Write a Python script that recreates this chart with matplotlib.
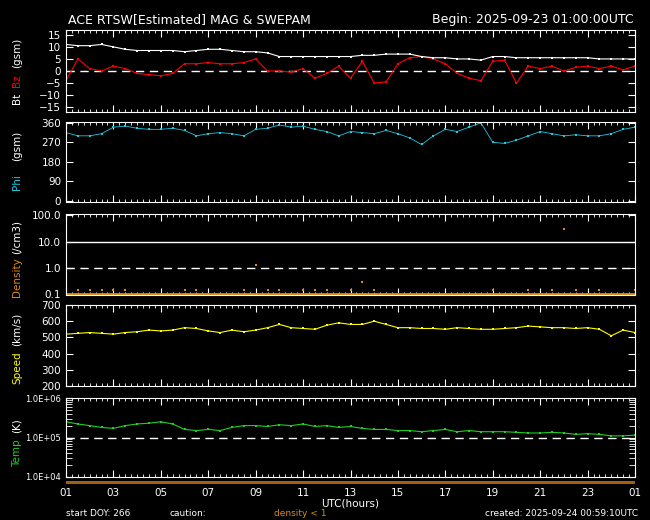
import matplotlib
matplotlib.use("Agg")
import matplotlib.pyplot as plt
import numpy as np

# hours since 01 UTC, half-hour steps
HOURS = [i * 0.5 for i in range(49)]
XTICK_LABELS = ["01", "03", "05", "07", "09", "11", "13", "15", "17", "19", "21", "23", "01"]

BT = [11, 10.5, 10.5, 11, 10, 9, 8.5, 8.5, 8.5, 8.5, 8, 8.5, 9, 9, 8.5, 8, 8, 7.5, 6, 6,
      6, 6, 6, 6, 6, 6.5, 6.5, 7, 7, 7, 6, 5.5, 5.5, 5, 5, 4.5, 6, 6, 5.5, 5.5, 5.5,
      5.5, 5.5, 5.5, 5.5, 5, 5, 5, 5]
BZ = [-4, 5, 1, 0, 2, 1, -1, -1.5, -2, -1, 3, 3, 3.5, 3, 3, 3.5, 5, 0, 0, -0.5, 1,
      -3, -1, 2, -3, 4, -5, -4.5, 3, 5.5, 6, 5, 3, -1, -3, -4, 4, 4.5, -5, 2, 1,
      2, 0, 1.5, 2, 1, 2, 0.5, 2]
PHI = [315, 300, 300, 310, 340, 345, 335, 330, 330, 335, 325, 300, 310, 315, 310, 300,
       330, 335, 350, 340, 345, 330, 320, 300, 320, 315, 310, 325, 310, 290, 260, 300,
       330, 320, 340, 360, 270, 265, 280, 300, 320, 310, 300, 305, 300, 300, 310, 330, 340]
DENSITY = [0.4, 0.15, 0.15, 0.15, 0.15, 0.15, 0.1, 0.1, 0.1, 0.1, 0.15, 0.15, 0.1, 0.1, 0.1, 0.15,
           1.3, 0.15, 0.15, 0.1, 0.15, 0.15, 0.15, 0.1, 0.15, 0.3, 0.15, 0.1, 0.1, 0.1, 0.1, 0.1,
           0.1, 0.1, 0.1, 0.1, 0.15, 0.1, 0.1, 0.15, 0.1, 0.15, 30, 0.15, 0.1, 0.15, 0.1, 0.1, 0.15]
SPEED = [520, 525, 530, 525, 520, 530, 535, 545, 540, 545, 560, 555, 540, 530, 545, 535,
         545, 560, 580, 560, 555, 550, 575, 590, 580, 580, 600, 580, 560, 560, 555, 555,
         550, 560, 555, 550, 550, 555, 560, 570, 565, 560, 560, 555, 560, 550, 510, 545, 530]
TEMP = [2.5e5, 2.2e5, 2e5, 1.8e5, 1.7e5, 2e5, 2.2e5, 2.3e5, 2.5e5, 2.2e5, 1.6e5, 1.5e5,
        1.6e5, 1.5e5, 1.8e5, 2e5, 2e5, 1.9e5, 2.1e5, 2e5, 2.2e5, 1.9e5, 2e5, 1.8e5,
        1.9e5, 1.7e5, 1.6e5, 1.6e5, 1.5e5, 1.5e5, 1.4e5, 1.5e5, 1.6e5, 1.4e5, 1.5e5,
        1.4e5, 1.4e5, 1.4e5, 1.35e5, 1.3e5, 1.3e5, 1.35e5, 1.3e5, 1.2e5, 1.25e5, 1.2e5,
        1.1e5, 1.1e5, 1.15e5]

W, H = 650, 520
fig = plt.figure(figsize=(W / 100, H / 100), dpi=100, facecolor="black")
plt.rcParams["font.family"] = "DejaVu Sans"
FS = 7.5
LEFT, RIGHT = 66, 635


def panel(top, bottom):
    ax = fig.add_axes([LEFT / W, 1 - bottom / H, (RIGHT - LEFT) / W, (bottom - top) / H])
    ax.set_facecolor("black")
    for s in ax.spines.values():
        s.set_color("white")
    ax.set_xlim(0, 24)
    ax.set_xticks(range(0, 25, 2))
    ax.set_xticks(np.arange(0, 24.01, 0.25), minor=True)
    ax.tick_params(colors="white", direction="in", top=True, right=True, labelsize=FS,
                   length=5, width=0.8)
    ax.tick_params(which="minor", colors="white", direction="in", top=True, length=2)
    ax.set_xticklabels([])
    return ax


def ylabel(ax, y, text, color):
    ax.text(-0.086, y, text, color=color, rotation=90, fontsize=FS,
            transform=ax.transAxes, ha="center", va="center")


def dots(ax, y, c):
    ax.plot(HOURS, y, color=c, lw=0.8)
    ax.plot(HOURS, y, "s", color=c, ms=1.5, mew=0)


# Bt / Bz
ax = panel(30, 112)
ax.set_ylim(-17, 17)
ax.set_yticks([-15, -10, -5, 0, 5, 10, 15])
ax.axhline(0, color="white", ls=(0, (6, 4)), lw=1)
dots(ax, BZ, "red")
dots(ax, BT, "white")
ylabel(ax, 0.17, "Bt", "white")
ylabel(ax, 0.38, "Bz", "red")
ylabel(ax, 0.72, "(gsm)", "white")
fig.text(68 / W, 1 - 20 / H, "ACE RTSW[Estimated] MAG & SWEPAM", color="white", fontsize=9, va="center")
fig.text(634 / W, 1 - 20 / H, "Begin: 2025-09-23 01:00:00UTC", color="white", fontsize=9, va="center", ha="right")

# Phi
ax = panel(122, 202)
ax.set_ylim(-6, 364)
ax.set_yticks([0, 90, 180, 270, 360])
ax.plot(HOURS, PHI, "s", color="#20c8e0", ms=1.8, mew=0)
ax.plot(HOURS, PHI, color="#20c8e0", lw=0.6)
ylabel(ax, 0.25, "Phi", "#20c8e0")
ylabel(ax, 0.7, "(gsm)", "white")

# Density
ax = panel(214, 295)
ax.set_yscale("log")
ax.set_ylim(0.095, 110)
ax.set_yticks([0.1, 1, 10, 100])
ax.set_yticklabels(["0.1", "1.0", "10.0", "100.0"])
ax.tick_params(which="minor", axis="y", colors="white", direction="in", length=4, right=True)
ax.axhline(10, color="white", lw=1)
ax.axhline(1, color="white", ls=(0, (6, 4)), lw=1)
ax.axhline(0.1, color="#e08a10", lw=2)
ax.plot(HOURS, DENSITY, "s", color="#e08a10", ms=1.8, mew=0)
ylabel(ax, 0.22, "Density", "#e08a10")
ylabel(ax, 0.72, "(/cm3)", "white")

# Speed
ax = panel(305, 386)
ax.set_ylim(200, 700)
ax.set_yticks([200, 300, 400, 500, 600, 700])
dots(ax, SPEED, "yellow")
ylabel(ax, 0.22, "Speed", "yellow")
ylabel(ax, 0.7, "(km/s)", "white")

# Temp
ax = panel(398, 477)
ax.set_yscale("log")
ax.set_ylim(1e4, 1e6)
ax.set_yticks([1e4, 1e5, 1e6])
ax.set_yticklabels(["1.0E+04", "1.0E+05", "1.0E+06"])
ax.tick_params(which="minor", axis="y", colors="white", direction="in", length=4, right=True)
ax.axhline(1e5, color="white", ls=(0, (6, 4)), lw=1)
dots(ax, TEMP, "#20d020")
ylabel(ax, 0.3, "Temp", "#20d020")
ylabel(ax, 0.65, "(K)", "white")
ax.set_xticklabels(XTICK_LABELS)
ax.tick_params(axis="x", pad=8)
for lbl in ax.get_yticklabels():
    lbl.set_fontsize(6)

# density < 1 caution bar
bar = fig.add_axes([LEFT / W, 1 - 484 / H, (RIGHT - LEFT) / W, 3 / H])
bar.set_xlim(0, 24)
bar.axis("off")
bar.axhspan(0, 1, color="#a06010")

fig.text(350 / W, 1 - 503 / H, "UTC(hours)", color="white", fontsize=FS, ha="center", va="center")
fig.text(66 / W, 1 - 513 / H, "start DOY: 266", color="white", fontsize=6.5, va="center")
fig.text(170 / W, 1 - 513 / H, "caution:", color="white", fontsize=6.5, va="center")
fig.text(274 / W, 1 - 513 / H, "density < 1", color="#e08a10", fontsize=6.5, va="center")
fig.text(638 / W, 1 - 513 / H, "created: 2025-09-24 00:59:10UTC", color="white", fontsize=6.5, va="center", ha="right")

fig.savefig("out.png", dpi=100, facecolor="black")
